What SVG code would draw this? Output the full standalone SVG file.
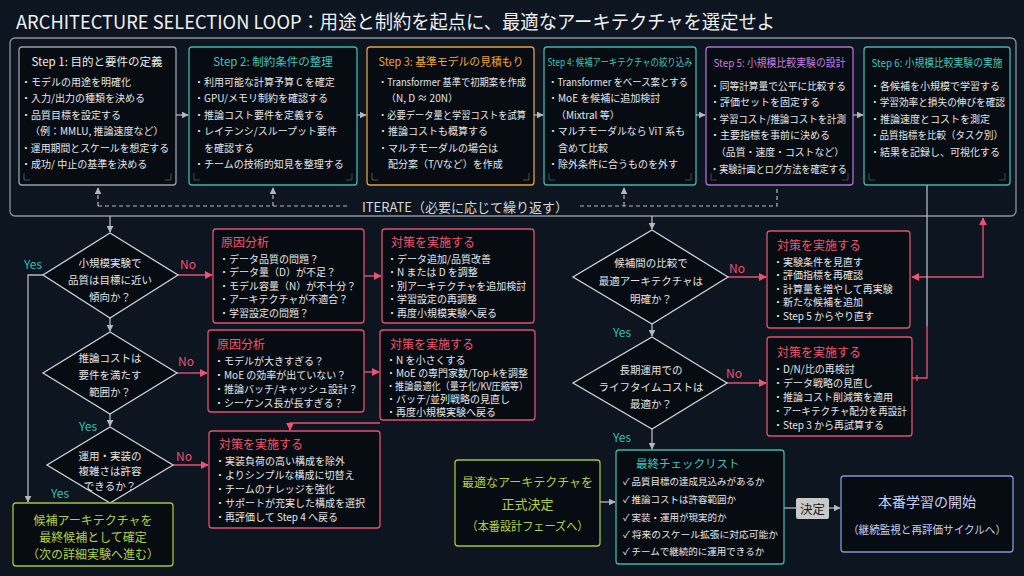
<svg xmlns="http://www.w3.org/2000/svg" width="1024" height="576" viewBox="0 0 1024 576">
<defs>
<style>
text{font-family:"Noto Sans CJK JP","Noto Sans",sans-serif;dominant-baseline:central}
.bx{fill:#070c13;stroke-width:1.3}
.g{stroke:#9aa0a8}
.tl{stroke:#3fb5ab}
.or{stroke:#e3a03a}
.pu{stroke:#b06fd0}
.pk{stroke:#e2506f}
.gr{stroke:#a5c43a}
.lv{stroke:#8a93d6}
.st{font-size:11.5px;text-anchor:middle}
.it{font-size:10px;fill:#e6e6e6}
.pt{font-size:12px;fill:#f2566f}
.dm{fill:#070c13;stroke:#cfd2d6;stroke-width:1.3}
.dt{font-size:10.5px;fill:#e4e4e4;text-anchor:middle}
.yes{font-size:12px;fill:#39bfb0}
.no{font-size:12px;fill:#ec5273}
.cg{fill:none;stroke:#b4b8bd;stroke-width:1.3}
.cd{fill:none;stroke:#b4b8bd;stroke-width:1.2;stroke-dasharray:4 3}
.cp{fill:none;stroke:#e2506f;stroke-width:1.4}
.cm{fill:none;stroke-width:1;opacity:.45}
.gt{font-size:12px;fill:#b3d043;text-anchor:middle}
</style>
<marker id="ag" viewBox="0 0 10 10" refX="9" refY="5" markerWidth="7" markerHeight="7" markerUnits="userSpaceOnUse" orient="auto-start-reverse"><path d="M0,0 L10,5 L0,10 z" fill="#b4b8bd"/></marker>
<marker id="ap" viewBox="0 0 10 10" refX="9" refY="5" markerWidth="8" markerHeight="8" markerUnits="userSpaceOnUse" orient="auto-start-reverse"><path d="M0,0 L10,5 L0,10 z" fill="#ec5273"/></marker>
</defs>
<rect x="0" y="0" width="1024" height="576" fill="#0c1520"/>

<text x="16" y="20" font-size="19" fill="#f0f0f0" textLength="759" lengthAdjust="spacingAndGlyphs">ARCHITECTURE SELECTION LOOP：用途と制約を起点に、最適なアーキテクチャを選定せよ</text>

<g id="loop-frame">
<rect x="10" y="38" width="1006" height="178" rx="5" fill="none" stroke="#8d939b" stroke-width="1.3"/>
<text x="465" y="206" font-size="13" fill="#d8d8d8" text-anchor="middle">ITERATE（必要に応じて繰り返す）</text>
</g>

<g id="step1">
<rect class="bx g" x="19" y="47" width="157" height="138" rx="3"/>
<path class="cm g" d="M24,173 V180 H30 M165,180 H171 V173"/>
<text class="st" x="97" y="61" fill="#ececec">Step 1: 目的と要件の定義</text>
<text class="it" x="21" y="81">・モデルの用途を明確化</text>
<text class="it" x="21" y="97.5">・入力/出力の種類を決める</text>
<text class="it" x="21" y="114">・品質目標を設定する</text>
<text class="it" x="30" y="130.5">（例：MMLU, 推論速度など）</text>
<text class="it" x="21" y="147" textLength="148" lengthAdjust="spacingAndGlyphs">・運用期間とスケールを想定する</text>
<text class="it" x="21" y="163.5">・成功/ 中止の基準を決める</text>
</g>

<g id="step2">
<rect class="bx tl" x="189" y="47" width="168" height="138" rx="3"/>
<path class="cm tl" d="M194,173 V180 H200 M346,180 H352 V173"/>
<text class="st" x="273" y="61" fill="#45c2b8">Step 2: 制約条件の整理</text>
<text class="it" x="194" y="81">・利用可能な計算予算 C を確定</text>
<text class="it" x="194" y="97.5">・GPU/メモリ制約を確認する</text>
<text class="it" x="194" y="114">・推論コスト要件を定義する</text>
<text class="it" x="194" y="130.5">・レイテンシ/スループット要件</text>
<text class="it" x="204" y="147">を確認する</text>
<text class="it" x="194" y="163.5">・チームの技術的知見を整理する</text>
</g>

<g id="step3">
<rect class="bx or" x="367" y="47" width="167" height="138" rx="3"/>
<path class="cm or" d="M372,173 V180 H378 M523,180 H529 V173"/>
<text class="st" x="451" y="61" fill="#f0a438" textLength="145" lengthAdjust="spacingAndGlyphs">Step 3: 基準モデルの見積もり</text>
<text class="it" x="378" y="81" textLength="148" lengthAdjust="spacingAndGlyphs">・Transformer 基準で初期案を作成</text>
<text class="it" x="386" y="97.5">（N, D ≈ 20N）</text>
<text class="it" x="378" y="114" textLength="148" lengthAdjust="spacingAndGlyphs">・必要データ量と学習コストを試算</text>
<text class="it" x="378" y="130.5">・推論コストも概算する</text>
<text class="it" x="378" y="147">・マルチモーダルの場合は</text>
<text class="it" x="388" y="163.5">配分案（T/Vなど）を作成</text>
</g>

<g id="step4">
<rect class="bx tl" x="544" y="47" width="152" height="138" rx="3"/>
<path class="cm tl" d="M549,173 V180 H555 M685,180 H691 V173"/>
<text x="620" y="61" font-size="10" text-anchor="middle" fill="#45c2b8" textLength="145" lengthAdjust="spacingAndGlyphs">Step 4: 候補アーキテクチャの絞り込み</text>
<text class="it" x="548" y="81" textLength="140" lengthAdjust="spacingAndGlyphs">・Transformer をベース案とする</text>
<text class="it" x="548" y="97.5">・MoE を候補に追加検討</text>
<text class="it" x="556" y="114">（Mixtral 等）</text>
<text class="it" x="548" y="130.5" textLength="137" lengthAdjust="spacingAndGlyphs">・マルチモーダルなら ViT 系も</text>
<text class="it" x="558" y="147">含めて比較</text>
<text class="it" x="548" y="163.5">・除外条件に合うものを外す</text>
</g>

<g id="step5">
<rect class="bx pu" x="706" y="47" width="147" height="138" rx="3"/>
<path class="cm pu" d="M711,173 V180 H717 M842,180 H848 V173"/>
<text x="779.5" y="62" font-size="11" text-anchor="middle" fill="#c77ddf" textLength="132" lengthAdjust="spacingAndGlyphs">Step 5: 小規模比較実験の設計</text>
<text class="it" x="710" y="85" textLength="136" lengthAdjust="spacingAndGlyphs">・同等計算量で公平に比較する</text>
<text class="it" x="710" y="101.6">・評価セットを固定する</text>
<text class="it" x="710" y="118.2" textLength="136" lengthAdjust="spacingAndGlyphs">・学習コスト/推論コストを計測</text>
<text class="it" x="710" y="134.8">・主要指標を事前に決める</text>
<text class="it" x="716" y="151.4" textLength="128" lengthAdjust="spacingAndGlyphs">（品質・速度・コストなど）</text>
<text class="it" x="710" y="168" textLength="137" lengthAdjust="spacingAndGlyphs">・実験計画とログ方法を確定する</text>
</g>

<g id="step6">
<rect class="bx tl" x="864" y="47" width="146" height="138" rx="3"/>
<path class="cm tl" d="M869,173 V180 H875 M999,180 H1005 V173"/>
<text x="937" y="62" font-size="11" text-anchor="middle" fill="#45c2b8" textLength="131" lengthAdjust="spacingAndGlyphs">Step 6: 小規模比較実験の実施</text>
<text class="it" x="870" y="85">・各候補を小規模で学習する</text>
<text class="it" x="870" y="101.6" textLength="135" lengthAdjust="spacingAndGlyphs">・学習効率と損失の伸びを確認</text>
<text class="it" x="870" y="118.2">・推論速度とコストを測定</text>
<text class="it" x="870" y="134.8" textLength="133" lengthAdjust="spacingAndGlyphs">・品質指標を比較（タスク別）</text>
<text class="it" x="870" y="151.4">・結果を記録し、可視化する</text>
</g>

<g id="connectors">
<path class="cg" d="M176,115 H188" marker-end="url(#ag)"/>
<path class="cg" d="M357,115 H366" marker-end="url(#ag)"/>
<path class="cg" d="M534,115 H543" marker-end="url(#ag)"/>
<path class="cg" d="M696,115 H705" marker-end="url(#ag)"/>
<path class="cg" d="M853,115 H863" marker-end="url(#ag)"/>
<path class="cd" d="M98,206 H350"/>
<path class="cd" d="M580,206 H777 V186"/>
<path class="cd" d="M98,206 V188" marker-end="url(#ag)"/>
<path class="cd" d="M273,206 V188" marker-end="url(#ag)"/>
<path class="cd" d="M624,206 V188" marker-end="url(#ag)"/>
<path class="cg" d="M110,216 V232" marker-end="url(#ag)"/>
<path class="cg" d="M652,216 V229" marker-end="url(#ag)"/>
<path class="cg" d="M110,318 V331" marker-end="url(#ag)"/>
<path class="cg" d="M110,414 V426" marker-end="url(#ag)"/>
<path class="cg" d="M43,275 H28 V502" marker-end="url(#ag)"/>
<path class="cg" d="M652,324 V336" marker-end="url(#ag)"/>
<path class="cg" d="M652,429 V449" marker-end="url(#ag)"/>
<path class="cp" d="M178,275 H212" marker-end="url(#ap)"/>
<path class="cp" d="M364,276 H381" marker-end="url(#ap)"/>
<path class="cp" d="M177,373 H207" marker-end="url(#ap)"/>
<path class="cp" d="M364,372 H379" marker-end="url(#ap)"/>
<path class="cp" d="M380,423 H290 V430" marker-end="url(#ap)"/>
<path class="cp" d="M173,465 H208" marker-end="url(#ap)"/>
<path class="cp" d="M728,277 H766" marker-end="url(#ap)"/>
<path class="cp" d="M727,383 H766" marker-end="url(#ap)"/>
<path class="cp" d="M912,277 H983 V218" marker-start="url(#ap)" marker-end="url(#ap)"/>
<path class="cg" d="M927,185 V326"/>
<path class="cp" d="M927,326 V378 H912 M917,375 V381"/>
<path class="cg" d="M600,502 H615" marker-end="url(#ag)"/>
<path class="cg" d="M784,508 H796"/>
<path class="cg" d="M829,508 H840" marker-end="url(#ag)"/>
</g>

<g id="q-quality">
<path class="dm" d="M110,233 L178,275 L110,318 L43,275 Z"/>
<text class="dt" x="110" y="262">小規模実験で</text>
<text class="dt" x="110" y="279">品質は目標に近い</text>
<text class="dt" x="110" y="296">傾向か？</text>
<text class="yes" x="24" y="263">Yes</text>
<text class="no" x="180" y="263">No</text>
</g>

<g id="q-cost">
<path class="dm" d="M110,332 L177,373 L110,414 L43,373 Z"/>
<text class="dt" x="110" y="357">推論コストは</text>
<text class="dt" x="110" y="374">要件を満たす</text>
<text class="dt" x="110" y="391">範囲か？</text>
<text class="no" x="178" y="360">No</text>
<text class="yes" x="79" y="425">Yes</text>
</g>

<g id="q-complexity">
<path class="dm" d="M110,427 L173,465 L110,503 L47,465 Z"/>
<text class="dt" x="110" y="455">運用・実装の</text>
<text class="dt" x="110" y="470">複雑さは許容</text>
<text class="dt" x="110" y="485">できるか？</text>
<text class="no" x="176" y="455">No</text>
<text class="yes" x="51" y="492">Yes</text>
</g>

<g id="final-candidate">
<rect class="bx gr" x="13" y="503" width="160" height="63" rx="3"/>
<text class="gt" x="93" y="519">候補アーキテクチャを</text>
<text class="gt" x="93" y="536">最終候補として確定</text>
<text class="gt" x="93" y="553">（次の詳細実験へ進む）</text>
</g>

<g id="cause1">
<rect class="bx pk" x="213" y="229" width="151" height="94" rx="3"/>
<text class="pt" x="221" y="241">原因分析</text>
<text class="it" x="219" y="258">・データ品質の問題？</text>
<text class="it" x="219" y="271.5">・データ量（D）が不足？</text>
<text class="it" x="219" y="285">・モデル容量（N）が不十分？</text>
<text class="it" x="219" y="298.5">・アーキテクチャが不適合？</text>
<text class="it" x="219" y="312">・学習設定の問題？</text>
</g>

<g id="action1">
<rect class="bx pk" x="382" y="229" width="152" height="94" rx="3"/>
<text class="pt" x="391" y="241">対策を実施する</text>
<text class="it" x="387" y="258">・データ追加/品質改善</text>
<text class="it" x="387" y="271.5">・N または D を調整</text>
<text class="it" x="387" y="285">・別アーキテクチャを追加検討</text>
<text class="it" x="387" y="298.5">・学習設定の再調整</text>
<text class="it" x="387" y="312">・再度小規模実験へ戻る</text>
</g>

<g id="cause2">
<rect class="bx pk" x="208" y="330" width="156" height="82" rx="3"/>
<text class="pt" x="217" y="343">原因分析</text>
<text class="it" x="214" y="360">・モデルが大きすぎる？</text>
<text class="it" x="214" y="374">・MoE の効率が出ていない？</text>
<text class="it" x="214" y="388">・推論バッチ/キャッシュ設計？</text>
<text class="it" x="214" y="402">・シーケンス長が長すぎる？</text>
</g>

<g id="action2">
<rect class="bx pk" x="380" y="330" width="155" height="90" rx="3"/>
<text class="pt" x="390" y="343">対策を実施する</text>
<text class="it" x="386" y="359">・N を小さくする</text>
<text class="it" x="386" y="372" textLength="142" lengthAdjust="spacingAndGlyphs">・MoE の専門家数/Top-kを調整</text>
<text class="it" x="386" y="385" textLength="142" lengthAdjust="spacingAndGlyphs">・推論最適化（量子化/KV圧縮等）</text>
<text class="it" x="386" y="398">・バッチ/並列戦略の見直し</text>
<text class="it" x="386" y="411">・再度小規模実験へ戻る</text>
</g>

<g id="action3">
<rect class="bx pk" x="209" y="431" width="171" height="97" rx="3"/>
<text class="pt" x="219" y="443">対策を実施する</text>
<text class="it" x="215" y="460">・実装負荷の高い構成を除外</text>
<text class="it" x="215" y="474">・よりシンプルな構成に切替え</text>
<text class="it" x="215" y="488">・チームのナレッジを強化</text>
<text class="it" x="215" y="502">・サポートが充実した構成を選択</text>
<text class="it" x="215" y="516">・再評価して Step 4 へ戻る</text>
</g>

<g id="q-clear">
<path class="dm" d="M652,230 L728,277 L652,324 L573,277 Z"/>
<text class="dt" x="651" y="262">候補間の比較で</text>
<text class="dt" x="651" y="280">最適アーキテクチャは</text>
<text class="dt" x="651" y="298">明確か？</text>
<text class="no" x="729" y="267">No</text>
<text class="yes" x="613" y="331">Yes</text>
</g>

<g id="action4">
<rect class="bx pk" x="767" y="231" width="143" height="97" rx="3"/>
<text class="pt" x="777" y="244">対策を実施する</text>
<text class="it" x="773" y="261">・実験条件を見直す</text>
<text class="it" x="773" y="274.5">・評価指標を再確認</text>
<text class="it" x="773" y="288">・計算量を増やして再実験</text>
<text class="it" x="773" y="301.5">・新たな候補を追加</text>
<text class="it" x="773" y="315">・Step 5 からやり直す</text>
</g>

<g id="q-lifetime">
<path class="dm" d="M652,337 L727,383 L652,429 L573,383 Z"/>
<text class="dt" x="651" y="369">長期運用での</text>
<text class="dt" x="651" y="386">ライフタイムコストは</text>
<text class="dt" x="651" y="403">最適か？</text>
<text class="no" x="726" y="372">No</text>
<text class="yes" x="613" y="436">Yes</text>
</g>

<g id="action5">
<rect class="bx pk" x="767" y="337" width="145" height="99" rx="3"/>
<text class="pt" x="777" y="351">対策を実施する</text>
<text class="it" x="773" y="368">・D/N/比の再検討</text>
<text class="it" x="773" y="382">・データ戦略の見直し</text>
<text class="it" x="773" y="396">・推論コスト削減策を適用</text>
<text class="it" x="773" y="410" textLength="134" lengthAdjust="spacingAndGlyphs">・アーキテクチャ配分を再設計</text>
<text class="it" x="773" y="424">・Step 3 から再試算する</text>
</g>

<g id="final-decision">
<rect class="bx gr" x="455" y="460" width="145" height="86" rx="3"/>
<text class="gt" x="527.5" y="481" font-size="12.5">最適なアーキテクチャを</text>
<text class="gt" x="527.5" y="503" style="font-size:13px">正式決定</text>
<text class="gt" x="527.5" y="525" textLength="122" lengthAdjust="spacingAndGlyphs">（本番設計フェーズへ）</text>
</g>

<g id="checklist">
<rect class="bx tl" x="616" y="450" width="168" height="114" rx="3"/>
<text x="636" y="463" font-size="11.5" fill="#45c2b8">最終チェックリスト</text>
<text x="623" y="481" font-size="9.5" fill="#e6e6e6">✓  品質目標の達成見込みがあるか</text>
<text x="623" y="499" font-size="9.5" fill="#e6e6e6">✓  推論コストは許容範囲か</text>
<text x="623" y="517" font-size="9.5" fill="#e6e6e6">✓  実装・運用が現実的か</text>
<text x="623" y="534" font-size="9.5" fill="#e6e6e6" textLength="155" lengthAdjust="spacingAndGlyphs">✓  将来のスケール拡張に対応可能か</text>
<text x="623" y="551" font-size="9.5" fill="#e6e6e6">✓  チームで継続的に運用できるか</text>
</g>

<g id="decide-label">
<rect x="796" y="498" width="33" height="21" rx="2" fill="#c9c9c9"/>
<text x="812.5" y="508.5" font-size="12.5" fill="#1a1a1a" text-anchor="middle">決定</text>
</g>

<g id="production">
<rect class="bx lv" x="841" y="476" width="172" height="76" rx="3"/>
<text x="927" y="501" font-size="14" fill="#c8ccf4" text-anchor="middle">本番学習の開始</text>
<text x="927" y="529" font-size="11" fill="#c8ccf4" text-anchor="middle" textLength="158" lengthAdjust="spacingAndGlyphs">（継続監視と再評価サイクルへ）</text>
</g>
</svg>
